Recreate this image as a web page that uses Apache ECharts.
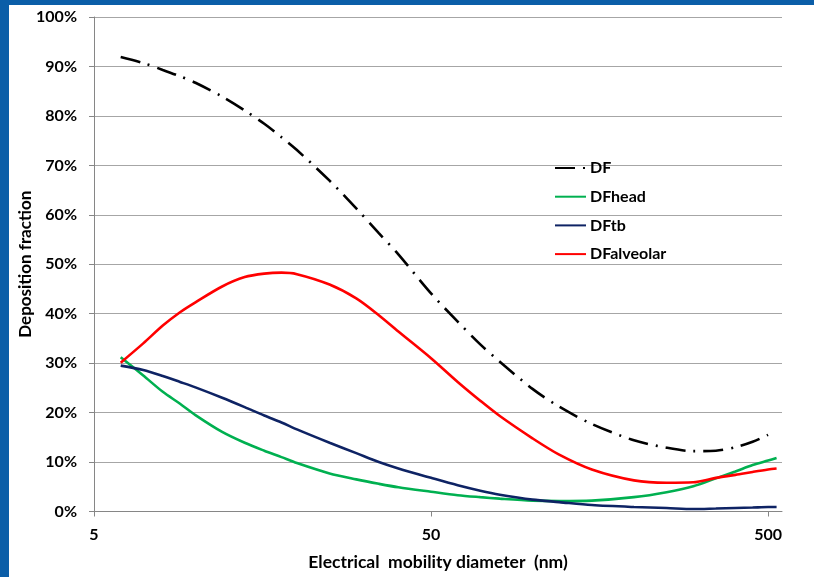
<!DOCTYPE html>
<html>
<head>
<meta charset="utf-8">
<script src="https://cdn.jsdelivr.net/npm/echarts@6/dist/echarts.min.js"></script>
<style>
  html, body { margin: 0; padding: 0; }
  body { width: 814px; height: 577px; background: #0b5ea8; position: relative; overflow: hidden; }
  #chart { position: absolute; left: 9px; top: 5px; width: 805px; height: 572px; background: #fff; }
</style>
</head>
<body>
<div id="chart"></div>
<script>
// electrical mobility diameter (nm)
const diameters = [6, 7, 8, 9, 10, 12, 14, 16, 18, 20, 25, 30, 35, 40, 50, 60, 70, 80, 100, 120, 150, 200, 250, 300, 350, 400, 450, 500, 530];
// deposition fractions (%)
const dfTotal = [91.9, 90.7, 89.3, 88.0, 86.7, 83.9, 81.1, 78.4, 75.7, 73.1, 66.9, 61.3, 56.3, 52.0, 44.1, 38.4, 33.8, 30.3, 24.8, 21.2, 17.7, 14.4, 12.9, 12.2, 12.3, 13.0, 14.1, 15.5, null];
const dfHead = [31.2, 27.5, 24.2, 21.8, 19.5, 16.1, 13.9, 12.3, 11.0, 9.8, 7.7, 6.5, 5.6, 4.9, 4.0, 3.3, 2.9, 2.6, 2.2, 2.1, 2.2, 2.9, 3.9, 5.1, 6.7, 8.1, 9.4, 10.3, 10.8];
const dfTb = [29.5, 28.6, 27.4, 26.2, 25.1, 23.0, 21.1, 19.4, 18.0, 16.6, 13.9, 11.8, 10.0, 8.7, 6.8, 5.3, 4.2, 3.4, 2.4, 1.9, 1.3, 0.9, 0.7, 0.5, 0.6, 0.7, 0.8, 0.9, 0.9];
const dfAlveolar = [30.1, 34.0, 37.6, 40.3, 42.3, 45.5, 47.4, 48.1, 48.3, 48.0, 45.9, 43.1, 39.7, 36.4, 31.0, 26.2, 22.4, 19.3, 14.8, 11.5, 8.5, 6.3, 5.8, 5.9, 6.8, 7.4, 8.0, 8.5, 8.7];
const xTicks = [5, 50, 500];

const font = 'Lato, "Open Sans", sans-serif';
const pairs = vals => diameters.map((d, i) => [d, vals[i] == null ? '-' : vals[i]]);

const chart = echarts.init(document.getElementById('chart'));
chart.setOption({
  animation: false,
  textStyle: { fontFamily: font },
  grid: { left: 85, top: 12, right: 32, bottom: 65.5, containLabel: false, outerBoundsMode: 'none' },
  legend: {
    orient: 'vertical',
    left: 545,
    top: 155,
    padding: 0,
    itemWidth: 31,
    itemHeight: 14,
    itemGap: 12.7,
    itemStyle: { opacity: 0 },
    textStyle: { fontFamily: font, fontSize: 16, fontWeight: 'bold', color: '#000', padding: [0, 0, 0, -1] },
    data: ['DF', 'DFhead', 'DFtb', 'DFalveolar']
  },
  xAxis: {
    type: 'log',
    logBase: 10,
    min: 5,
    max: 550,
    name: 'Electrical  mobility diameter  (nm)',
    nameLocation: 'middle',
    nameGap: 42,
    nameMoveOverlap: false,
    nameTextStyle: { fontFamily: font, fontSize: 17.5, fontWeight: 'bold', color: '#000' },
    axisLine: { show: true, lineStyle: { color: '#868686', width: 1 } },
    axisTick: { show: true, length: 5, customValues: xTicks, lineStyle: { color: '#868686' } },
    axisLabel: {
      customValues: xTicks,
      margin: 15,
      fontFamily: font, fontSize: 16, fontWeight: 'bold', color: '#000',
      formatter: v => String(Math.round(v))
    },
    splitLine: { show: false },
    minorTick: { show: false }
  },
  yAxis: {
    type: 'value',
    min: 0,
    max: 100,
    interval: 10,
    name: 'Deposition fraction',
    nameLocation: 'middle',
    nameGap: 60,
    nameMoveOverlap: false,
    nameTextStyle: { fontFamily: font, fontSize: 17, fontWeight: 'bold', color: '#000' },
    axisLine: { show: true, lineStyle: { color: '#868686', width: 1 } },
    axisTick: { show: true, length: 5, lineStyle: { color: '#868686' } },
    axisLabel: { margin: 17, fontFamily: font, fontSize: 16, fontWeight: 'bold', color: '#000', formatter: '{value}%' },
    splitLine: { show: true, lineStyle: { color: '#a6a6a6', width: 1 } }
  },
  series: [
    {
      name: 'DF', type: 'line', data: pairs(dfTotal), symbol: 'none', smooth: 0.3,
      lineStyle: { color: '#000', width: 2.6, type: [20, 8, 2, 8], cap: 'butt' },
      itemStyle: { color: '#000' }
    },
    {
      name: 'DFhead', type: 'line', data: pairs(dfHead), symbol: 'none', smooth: 0.3,
      lineStyle: { color: '#00b050', width: 2.6 }, itemStyle: { color: '#00b050' }
    },
    {
      name: 'DFtb', type: 'line', data: pairs(dfTb), symbol: 'none', smooth: 0.3,
      lineStyle: { color: '#0e2364', width: 2.6 }, itemStyle: { color: '#0e2364' }
    },
    {
      name: 'DFalveolar', type: 'line', data: pairs(dfAlveolar), symbol: 'none', smooth: 0.3,
      lineStyle: { color: '#ff0000', width: 2.6 }, itemStyle: { color: '#ff0000' }
    }
  ]
});
</script>
</body>
</html>
